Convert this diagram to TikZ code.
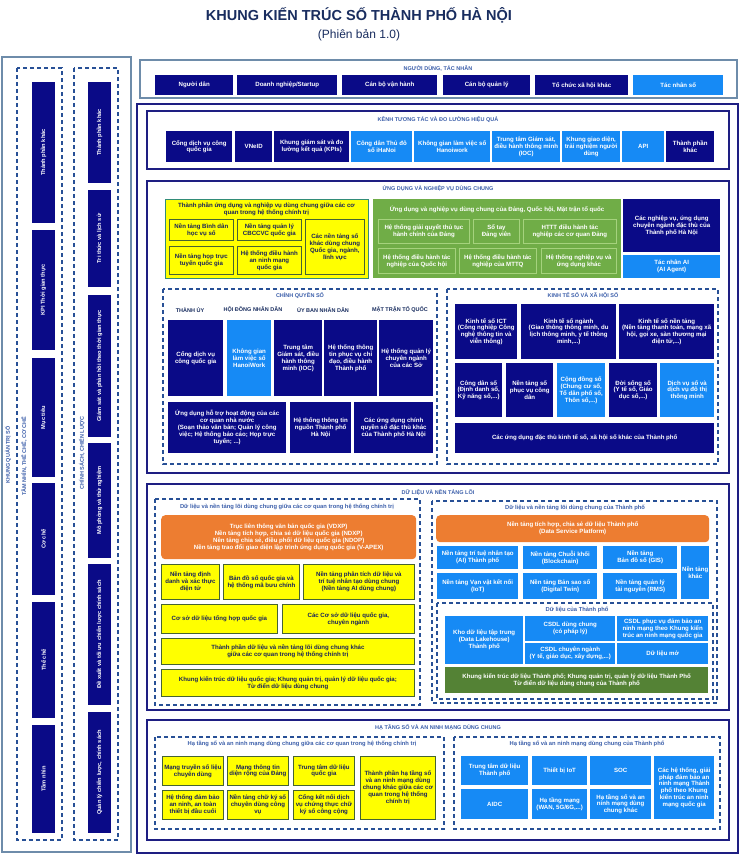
\documentclass[tikz,border=0pt]{standalone}
\usepackage{fontspec}
\setmainfont{Liberation Sans}
\usepackage{xcolor}
\usepackage{tikz}
\definecolor{cNavy}{RGB}{10,10,135}
\definecolor{cSky}{RGB}{22,138,245}
\definecolor{cYel}{RGB}{255,255,0}
\definecolor{cOlive}{RGB}{70,100,50}
\definecolor{cTeal}{RGB}{50,140,120}
\definecolor{cInk}{RGB}{25,35,90}
\definecolor{cGrn}{RGB}{112,173,71}
\definecolor{cGrnL}{RGB}{165,210,125}
\definecolor{cOra}{RGB}{237,125,49}
\definecolor{cDkGrn}{RGB}{84,130,53}
\definecolor{cFrame}{RGB}{30,30,130}
\definecolor{cDash}{RGB}{40,80,150}
\definecolor{cTitle}{RGB}{60,95,170}
\definecolor{cHead}{RGB}{25,45,95}
\definecolor{cGray}{RGB}{110,140,170}
\tikzset{
  bx/.style={anchor=north west,inner sep=0.5pt,align=center,font=\fontsize{6.1}{6.9}\selectfont\bfseries},
  wh/.style 2 args={minimum width=#1,minimum height=#2},
  nv/.style={bx,fill=cNavy,text=white},
  lb/.style={bx,fill=cSky,text=white},
  yb/.style={bx,fill=cYel,draw=cOlive,line width=0.8pt,text=cInk},
  gb/.style={bx,fill=cGrn,draw=cGrnL,line width=0.8pt,text=white},
  ob/.style={bx,fill=cOra,rounded corners=4pt,text=white},
  db/.style={bx,fill=cDkGrn,text=white},
  vb/.style={fill=cNavy,text=white,anchor=center,rotate=90,inner sep=1pt,font=\fontsize{5.7}{6.2}\selectfont\bfseries},
  secframe/.style={draw=cFrame,line width=1.5pt},
  dashbox/.style={draw=cDash,line width=1.1pt,dash pattern=on 4pt off 3pt},
  sect/.style={text=cTitle,inner sep=0pt,font=\fontsize{5.5}{6.5}\selectfont\bfseries},
  subt/.style={text=cTitle,inner sep=0pt,font=\fontsize{5.8}{6.8}\selectfont\bfseries},
}

\begin{document}
\begin{tikzpicture}[x=1pt,y=-1pt]
\fill[white] (0,0) rectangle (740,855);
\useasboundingbox (0,0) rectangle (740,855);

% title
\node[text=cHead,font=\fontsize{14.5}{16}\selectfont\bfseries] (title) at (359,15) {KHUNG KIẾN TRÚC SỐ THÀNH PHỐ HÀ NỘI};
\node[text=cHead,font=\fontsize{12}{14}\selectfont] (version) at (359,35) {(Phiên bản 1.0)};

% users
\draw[cGray,line width=1.5pt] (140,60) rectangle (737,98);
\node[sect] (userT) at (438,68) {NGƯỜI DÙNG, TÁC NHÂN};
\node[nv,wh={78}{20}] (uDan) at (155,75) {Người dân};
\node[nv,wh={100}{20}] (uDN) at (237,75) {Doanh nghiệp/Startup};
\node[nv,wh={95}{20}] (uVH) at (342,75) {Cán bộ vận hành};
\node[nv,wh={87}{20}] (uQL) at (443,75) {Cán bộ quản lý};
\node[nv,wh={93}{20}] (uXH) at (535,75) {Tổ chức xã hội khác};
\node[lb,wh={90}{20}] (uSo) at (633,75) {Tác nhân số};

% left column
\draw[cGray,line width=1.5pt] (2,57) rectangle (131,852);
\draw[dashbox] (17,68) rectangle (62,840);
\draw[dashbox] (74,68) rectangle (118,840);
\node[sect,rotate=90] (govT) at (8,455) {KHUNG QUẢN TRỊ SỐ};
\node[sect,rotate=90] (visT) at (24,456) {TẦM NHÌN, THỂ CHẾ, CƠ CHẾ};
\node[sect,rotate=90] (polT) at (82,453) {CHÍNH SÁCH, CHIẾN LƯỢC};
\node[vb,wh={141}{23}] (a1) at (43.5,152.5) {Thành phần khác};
\node[vb,wh={120}{23}] (a2) at (43.5,290) {KPI Thời gian thực};
\node[vb,wh={119}{23}] (a3) at (43.5,417.5) {Mục tiêu};
\node[vb,wh={112}{23}] (a4) at (43.5,539) {Cơ chế};
\node[vb,wh={116}{23}] (a5) at (43.5,660) {Thể chế};
\node[vb,wh={108}{23}] (a6) at (43.5,779) {Tầm nhìn};
\node[vb,wh={101}{23}] (b1) at (99.5,132.5) {Thành phần khác};
\node[vb,wh={97}{23}] (b2) at (99.5,238.5) {Tri thức và lịch sử};
\node[vb,wh={142}{23}] (b3) at (99.5,366) {Giám sát và phản hồi theo thời gian thực};
\node[vb,wh={115}{23}] (b4) at (99.5,500.5) {Mô phỏng và thử nghiệm};
\node[vb,wh={141}{23}] (b5) at (99.5,634.5) {Đề xuất và tối ưu chiến lược chính sách};
\node[vb,wh={121}{23}] (b6) at (99.5,772.5) {Quản lý chiến lược, chính sách};

% main frame
\draw[cFrame,line width=2pt] (137,104) rectangle (738,853);

% channels
\draw[secframe] (147,111) rectangle (729,169);
\node[sect] (kenhT) at (438,120) {KÊNH TƯƠNG TÁC VÀ ĐO LƯỜNG HIỆU QUẢ};
\node[nv,wh={66}{31}] (k1) at (166,131) {Cổng dịch vụ công\\quốc gia};
\node[nv,wh={37}{31}] (k2) at (235,131) {VNeID};
\node[nv,wh={75}{31}] (k3) at (274,131) {Khung giám sát và đo\\lường kết quả (KPIs)};
\node[lb,wh={61}{31}] (k4) at (351,131) {Công dân Thủ đô\\số iHaNoi};
\node[lb,wh={76}{31}] (k5) at (414,131) {Không gian làm việc số\\Hanoiwork};
\node[lb,wh={68}{31}] (k6) at (492,131) {Trung tâm Giám sát,\\điều hành thông minh\\(IOC)};
\node[lb,wh={58}{31}] (k7) at (562,131) {Khung giao diện,\\trải nghiệm người\\dùng};
\node[lb,wh={42}{31}] (k8) at (622,131) {API};
\node[nv,wh={48}{31}] (k9) at (666,131) {Thành phần\\khác};

% shared applications
\draw[secframe] (147,181) rectangle (729,473);
\node[sect] (appT) at (438,189) {ỨNG DỤNG VÀ NGHIỆP VỤ DÙNG CHUNG};
\draw[fill=cYel,draw=cTeal,line width=1pt] (165,199) rectangle (368,278);
\node[text=cInk,align=center,inner sep=0pt,font=\fontsize{6.1}{7}\selectfont\bfseries] (yelT) at (266.5,209.5) {Thành phần ứng dụng và nghiệp vụ dùng chung giữa các cơ\\quan trong hệ thống chính trị};
\node[yb,wh={64}{21}] (y1) at (169,219) {Nền tảng Bình dân\\học vụ số};
\node[yb,wh={64}{21}] (y2) at (237,219) {Nền tảng quản lý\\CBCCVC quốc gia};
\node[yb,wh={59}{55}] (y3) at (305,219) {Các nền tảng số\\khác dùng chung\\Quốc gia, ngành,\\lĩnh vực};
\node[yb,wh={64}{28}] (y4) at (169,246) {Nền tảng họp trực\\tuyến quốc gia};
\node[yb,wh={64}{28}] (y5) at (237,246) {Hệ thống điều hành\\an ninh mạng\\quốc gia};
\fill[cGrn] (373,199) rectangle (621,278);
\node[text=white,inner sep=0pt,font=\fontsize{6.1}{7}\selectfont\bfseries] (grnT) at (497,209) {Ứng dụng và nghiệp vụ dùng chung của Đảng, Quốc hội, Mặt trận tổ quốc};
\node[gb,wh={91}{24}] (g1) at (378,219) {Hệ thống giải quyết thủ tục\\hành chính của Đảng};
\node[gb,wh={46}{24}] (g2) at (473,219) {Sổ tay\\Đảng viên};
\node[gb,wh={93}{24}] (g3) at (523,219) {HTTT điều hành tác\\nghiệp các cơ quan Đảng};
\node[gb,wh={77}{25}] (g4) at (378,248) {Hệ thống điều hành tác\\nghiệp của Quốc hội};
\node[gb,wh={77}{25}] (g5) at (459,248) {Hệ thống điều hành tác\\nghiệp của MTTQ};
\node[gb,wh={75}{25}] (g6) at (541,248) {Hệ thống nghiệp vụ và\\ứng dụng khác};
\node[nv,wh={97}{53}] (hnApp) at (623,199) {Các nghiệp vụ, ứng dụng\\chuyên ngành đặc thù của\\Thành phố Hà Nội};
\node[lb,wh={97}{23}] (aiAg) at (623,255) {Tác nhân AI\\(AI Agent)};

% digital government
\draw[dashbox] (163,289) rectangle (437,464);
\node[sect] (cqsT) at (300,296) {CHÍNH QUYỀN SỐ};
\node[sect,text=cHead] (hThu) at (190,310) {THÀNH ỦY};
\node[sect,text=cHead] (hHd) at (253,310) {HỘI ĐỒNG NHÂN DÂN};
\node[sect,text=cHead] (hUb) at (323,310) {ỦY BAN NHÂN DÂN};
\node[sect,text=cHead] (hMt) at (400,310) {MẶT TRẬN TỔ QUỐC};
\node[nv,wh={55}{76}] (c1) at (168,320) {Cổng dịch vụ\\công quốc gia};
\node[lb,wh={44}{76}] (c2) at (227,320) {Không gian\\làm việc số\\HanoiWork};
\node[nv,wh={48}{76}] (c3) at (274,320) {Trung tâm\\Giám sát, điều\\hành thông\\minh (IOC)};
\node[nv,wh={53}{76}] (c4) at (324,320) {Hệ thống thông\\tin phục vụ chỉ\\đạo, điều hành\\Thành phố};
\node[nv,wh={54}{76}] (c5) at (379,320) {Hệ thống quản lý\\chuyên ngành\\của các Sở};
\node[nv,wh={118}{51}] (c6) at (168,402) {Ứng dụng hỗ trợ hoạt động của các\\cơ quan nhà nước\\(Soạn thảo văn bản; Quản lý công\\việc; Hệ thống báo cáo; Họp trực\\tuyến; ...)};
\node[nv,wh={61}{51}] (c7) at (290,402) {Hệ thống thông tin\\nguồn Thành phố\\Hà Nội};
\node[nv,wh={79}{51}] (c8) at (354,402) {Các ứng dụng chính\\quyền số đặc thù khác\\của Thành phố Hà Nội};

% digital economy
\draw[dashbox] (447,289) rectangle (718,464);
\node[sect] (ktsT) at (583,296) {KINH TẾ SỐ VÀ XÃ HỘI SỐ};
\node[nv,wh={62}{55}] (e1) at (455,304) {Kinh tế số ICT\\(Công nghiệp Công\\nghệ thông tin và\\viễn thông)};
\node[nv,wh={95}{55}] (e2) at (521,304) {Kinh tế số ngành\\(Giao thông thông minh, du\\lịch thông minh, y tế thông\\minh,...)};
\node[nv,wh={95}{55}] (e3) at (619,304) {Kinh tế số nền tảng\\(Nền tảng thanh toán, mạng xã\\hội, gọi xe, sàn thương mại\\điện tử,...)};
\node[nv,wh={47}{54}] (e4) at (455,363) {Công dân số\\(Định danh số,\\Kỹ năng số,...)};
\node[nv,wh={47}{54}] (e5) at (506,363) {Nền tảng số\\phục vụ công\\dân};
\node[lb,wh={48}{54}] (e6) at (557,363) {Cộng đồng số\\(Chung cư số,\\Tổ dân phố số,\\Thôn số,...)};
\node[nv,wh={48}{54}] (e7) at (609,363) {Đời sống số\\(Y tế số, Giáo\\dục số,...)};
\node[lb,wh={54}{54}] (e8) at (660,363) {Dịch vụ số và\\dịch vụ đô thị\\thông minh};
\node[nv,wh={259}{30}] (e9) at (455,423) {Các ứng dụng đặc thù kinh tế số, xã hội số khác của Thành phố};

% core data and platforms
\draw[secframe] (147,484) rectangle (729,710);
\node[sect] (dataT) at (438,493) {DỮ LIỆU VÀ NỀN TẢNG LÕI};
\draw[dashbox] (155,499) rectangle (420,705);
\node[subt] (dlT) at (287,507) {Dữ liệu và nền tảng lõi dùng chung giữa các cơ quan trong hệ thống chính trị};
\node[ob,wh={255}{44}] (natOra) at (161,515) {Trục liên thông văn bản quốc gia (VDXP)\\Nền tảng tích hợp, chia sẻ dữ liệu quốc gia (NDXP)\\Nền tảng chia sẻ, điều phối dữ liệu quốc gia (NDOP)\\Nền tảng trao đổi giao diện lập trình ứng dụng quốc gia (V-APEX)};
\node[yb,wh={58}{35}] (d1) at (161,564) {Nền tảng định\\danh và xác thực\\điện tử};
\node[yb,wh={76}{35}] (d2) at (223,564) {Bản đồ số quốc gia và\\hệ thống mã bưu chính};
\node[yb,wh={111}{35}] (d3) at (303,564) {Nền tảng phân tích dữ liệu và\\trí tuệ nhân tạo dùng chung\\(Nền tảng AI dùng chung)};
\node[yb,wh={116}{29}] (d4) at (161,604) {Cơ sở dữ liệu tổng hợp quốc gia};
\node[yb,wh={132}{29}] (d5) at (282,604) {Các Cơ sở dữ liệu quốc gia,\\chuyên ngành};
\node[yb,wh={253}{26}] (d6) at (161,638) {Thành phần dữ liệu và nền tảng lõi dùng chung khác\\giữa các cơ quan trong hệ thống chính trị};
\node[yb,wh={253}{27}] (d7) at (161,669) {Khung kiến trúc dữ liệu quốc gia; Khung quản trị, quản lý dữ liệu quốc gia;\\Từ điển dữ liệu dùng chung};
\draw[dashbox] (432,501) rectangle (717,703);
\node[subt] (dcT) at (575,508) {Dữ liệu và nền tảng lõi dùng chung của Thành phố};
\node[ob,wh={273}{27}] (cityOra) at (436,515) {Nền tảng tích hợp, chia sẻ dữ liệu Thành phố\\(Data Service Platform)};
\node[lb,wh={81}{23}] (r1) at (437,546) {Nền tảng trí tuệ nhân tạo\\(AI) Thành phố};
\node[lb,wh={74}{23}] (r2) at (523,546) {Nền tảng Chuỗi khối\\(Blockchain)};
\node[lb,wh={74}{23}] (r3) at (603,546) {Nền tảng\\Bản đồ số (GIS)};
\node[lb,wh={28}{53}] (r4) at (681,546) {Nền tảng\\khác};
\node[lb,wh={81}{26}] (r5) at (437,573) {Nền tảng Vạn vật kết nối\\(IoT)};
\node[lb,wh={74}{26}] (r6) at (523,573) {Nền tảng Bản sao số\\(Digital Twin)};
\node[lb,wh={74}{26}] (r7) at (603,573) {Nền tảng quản lý\\tài nguyên (RMS)};
\draw[dashbox] (437,603) rectangle (713,699);
\node[subt] (dtpT) at (577,610) {Dữ liệu của Thành phố};
\node[lb,wh={78}{48}] (s1) at (445,616) {Kho dữ liệu tập trung\\(Data Lakehouse)\\Thành phố};
\node[lb,wh={90}{25}] (s2) at (525,616) {CSDL dùng chung\\(có pháp lý)};
\node[lb,wh={91}{25}] (s3) at (617,616) {CSDL phục vụ đảm bảo an\\ninh mạng theo Khung kiến\\trúc an ninh mạng quốc gia};
\node[lb,wh={90}{21}] (s4) at (525,643) {CSDL chuyên ngành\\(Y tế, giáo dục, xây dựng,...)};
\node[lb,wh={91}{21}] (s5) at (617,643) {Dữ liệu mở};
\node[db,wh={263}{26}] (cityBar) at (445,667) {Khung kiến trúc dữ liệu Thành phố; Khung quản trị, quản lý dữ liệu Thành Phố\\Từ điển dữ liệu dùng chung của Thành phố};

% infrastructure and security
\draw[secframe] (147,720) rectangle (729,840);
\node[sect] (infT) at (438,728) {HẠ TẦNG SỐ VÀ AN NINH MẠNG DÙNG CHUNG};
\draw[dashbox] (155,737) rectangle (444,829);
\node[subt] (inlT) at (302,744) {Hạ tầng số và an ninh mạng dùng chung giữa các cơ quan trong hệ thống chính trị};
\node[yb,wh={61}{29}] (i1) at (162,756) {Mạng truyền số liệu\\chuyên dùng};
\node[yb,wh={61}{29}] (i2) at (227,756) {Mạng thông tin\\diện rộng của Đảng};
\node[yb,wh={61}{29}] (i3) at (293,756) {Trung tâm dữ liệu\\quốc gia};
\node[yb,wh={75}{63}] (i4) at (360,756) {Thành phần hạ tầng số\\và an ninh mạng dùng\\chung khác giữa các cơ\\quan trong hệ thống\\chính trị};
\node[yb,wh={61}{29}] (i5) at (162,790) {Hệ thống đảm bảo\\an ninh, an toàn\\thiết bị đầu cuối};
\node[yb,wh={61}{29}] (i6) at (227,790) {Nền tảng chữ ký số\\chuyên dùng công\\vụ};
\node[yb,wh={61}{29}] (i7) at (293,790) {Cổng kết nối dịch\\vụ chứng thực chữ\\ký số công cộng};
\draw[dashbox] (454,737) rectangle (720,829);
\node[subt] (incT) at (587,744) {Hạ tầng số và an ninh mạng dùng chung của Thành phố};
\node[lb,wh={67}{29}] (j1) at (461,756) {Trung tâm dữ liệu\\Thành phố};
\node[lb,wh={55}{29}] (j2) at (532,756) {Thiết bị IoT};
\node[lb,wh={61}{29}] (j3) at (590,756) {SOC};
\node[lb,wh={60}{63}] (j4) at (654,756) {Các hệ thống, giải\\pháp đảm bảo an\\ninh mạng Thành\\phố theo Khung\\kiến trúc an ninh\\mạng quốc gia};
\node[lb,wh={67}{30}] (j5) at (461,789) {AIDC};
\node[lb,wh={55}{30}] (j6) at (532,789) {Hạ tầng mạng\\(WAN, 5G/6G,...)};
\node[lb,wh={61}{30}] (j7) at (590,789) {Hạ tầng số và an\\ninh mạng dùng\\chung khác};
\end{tikzpicture}
\end{document}
